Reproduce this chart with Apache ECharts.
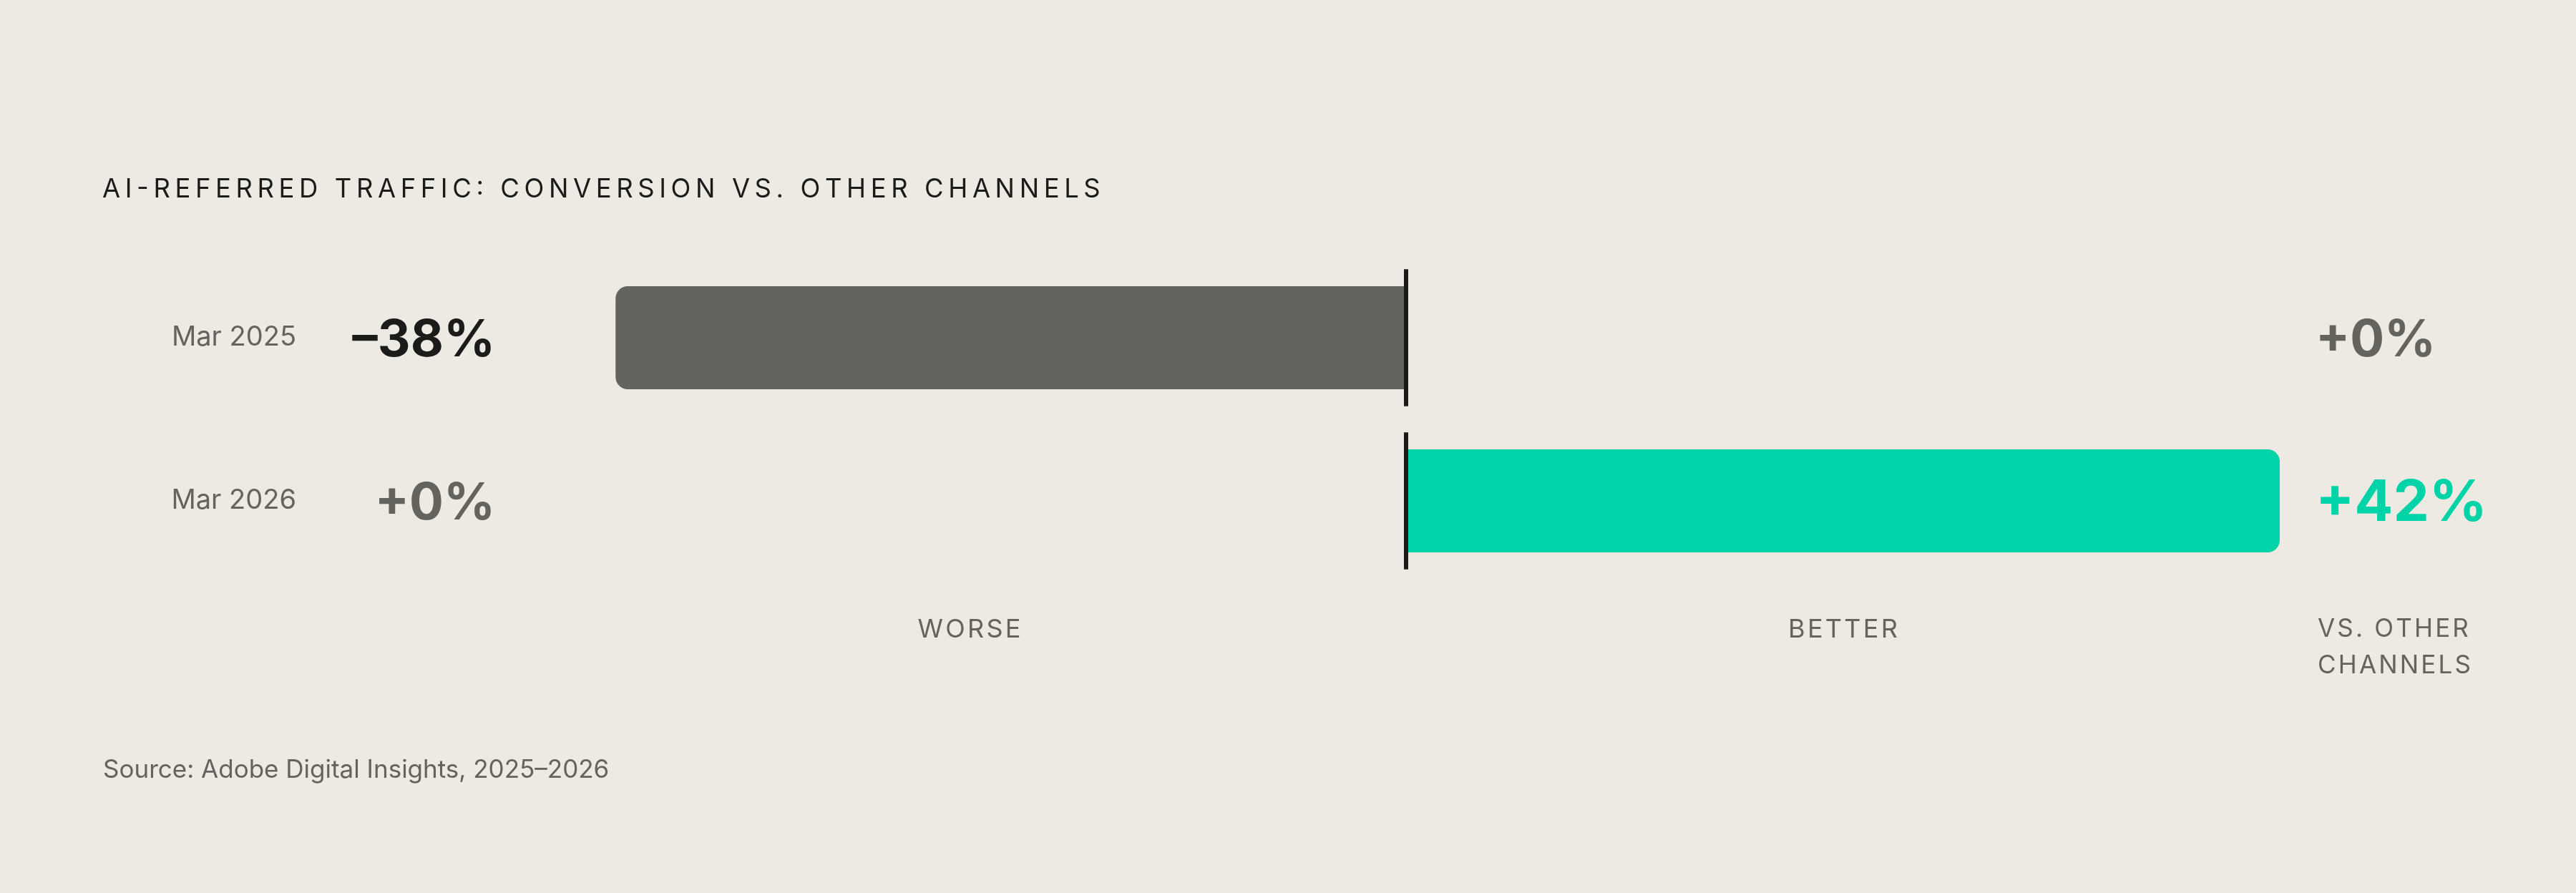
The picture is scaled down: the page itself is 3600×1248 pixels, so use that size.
<!DOCTYPE html>
<html>
<head>
<meta charset="utf-8">
<script src="https://cdn.jsdelivr.net/npm/echarts@6/dist/echarts.min.js"></script>
<style>
  html, body { margin: 0; padding: 0; background: #edeae3; }
  #chart { width: 3600px; height: 1248px; }
</style>
</head>
<body>
<div id="chart"></div>
<script>
var months = ['Mar 2025', 'Mar 2026'];
var change = [-38, 42];             // conversion vs. other channels, %
var sideLabels = ['WORSE', 'BETTER'];
var axisMin = -42, axisMax = 42, axisStep = 21;

var DARK = '#1b1b1a', GREY = '#64635e', GREEN = '#00d3a7', BG = '#edeae3';
var FONT = 'Inter, "DejaVu Sans", sans-serif';

// letter spaced caps, the canvas has no tracking so put hair spaces in
function track(s, n) {
    return s.split('').join(new Array((n || 1) + 1).join('\u200A'));
}

var myChart = echarts.init(document.getElementById('chart'));

option = {
    backgroundColor: BG,
    animation: false,
    title: {
        text: track('AI-REFERRED TRAFFIC: CONVERSION VS. OTHER CHANNELS', 2),
        left: 143,
        top: 247,
        padding: 0,
        textStyle: {
            fontFamily: FONT,
            fontSize: 36.4,
            fontWeight: 'normal',
            color: DARK
        }
    },
    graphic: [
        {
            type: 'text',
            left: 3239,
            top: 854,
            style: {
                text: track('VS. OTHER') + '\n' + track('CHANNELS'),
                fontFamily: FONT,
                fontSize: 35,
                lineHeight: 51,
                fill: GREY
            }
        },
        {
            type: 'text',
            left: 144,
            top: 1059,
            style: {
                text: 'Source: Adobe Digital Insights, 2025\u20132026',
                fontFamily: FONT,
                fontSize: 35,
                fill: GREY
            }
        }
    ],
    grid: {
        left: 744,
        right: 414,
        top: 358,
        height: 456,
        containLabel: false
    },
    xAxis: {
        type: 'value',
        min: axisMin,
        max: axisMax,
        interval: axisStep,
        axisLine: { show: false },
        axisTick: { show: false },
        splitLine: { show: false },
        axisLabel: {
            margin: 48,
            fontFamily: FONT,
            fontSize: 36,
            color: GREY,
            formatter: function (v) {
                if (v === -axisStep) return track(sideLabels[0]);
                if (v === axisStep) return track(sideLabels[1]);
                return '';
            }
        }
    },
    yAxis: [
        {
            type: 'category',
            data: months,
            inverse: true,
            position: 'left',
            axisLine: { show: false },
            axisTick: { show: false },
            axisLabel: {
                margin: 330,
                fontFamily: FONT,
                fontSize: 38,
                color: GREY,
                padding: [4, 0, 0, 0]
            }
        },
        {
            // left value column: how much worse
            type: 'category',
            data: months,
            inverse: true,
            position: 'left',
            axisLine: { show: false },
            axisTick: { show: false },
            axisLabel: {
                margin: 52,
                formatter: function (val, i) {
                    var v = change[i];
                    return v < 0 ? '{neg|\u2013' + Math.abs(v) + '%}' : '{zero|+0%}';
                },
                rich: {
                    neg: { fontFamily: FONT, fontSize: 71, fontWeight: 'bold', color: DARK, padding: [10, 0, 0, 0] },
                    zero: { fontFamily: FONT, fontSize: 71, fontWeight: 'bold', color: GREY, padding: [10, 0, 0, 0] }
                }
            }
        },
        {
            // right value column: how much better
            type: 'category',
            data: months,
            inverse: true,
            position: 'right',
            axisLine: { show: false },
            axisTick: { show: false },
            axisLabel: {
                margin: 50,
                formatter: function (val, i) {
                    var v = change[i];
                    return v > 0 ? '{pos|+' + v + '%}' : '{zero|+0%}';
                },
                rich: {
                    pos: { fontFamily: FONT, fontSize: 80, fontWeight: 'bold', color: GREEN, padding: [8, 0, 0, 0] },
                    zero: { fontFamily: FONT, fontSize: 71, fontWeight: 'bold', color: GREY, padding: [10, 0, 0, 0] }
                }
            }
        }
    ],
    series: [
        {
            type: 'bar',
            yAxisIndex: 0,
            barWidth: 144,
            data: change.map(function (v) {
                return {
                    value: v,
                    itemStyle: {
                        color: v < 0 ? GREY : GREEN,
                        borderRadius: v < 0 ? [17, 0, 0, 17] : [0, 17, 17, 0]
                    }
                };
            }),
            z: 2
        },
        {
            // zero line, one piece per row
            type: 'custom',
            yAxisIndex: 0,
            data: months.map(function (m, i) { return [0, i]; }),
            encode: { x: 0, y: 1 },
            renderItem: function (params, api) {
                var p = api.coord([api.value(0), api.value(1)]);
                var half = api.size([0, 1])[1] * 0.42;
                return {
                    type: 'line',
                    shape: { x1: p[0], y1: p[1] - half, x2: p[0], y2: p[1] + half },
                    style: { stroke: DARK, lineWidth: 6 }
                };
            },
            z: 3
        }
    ]
};

myChart.setOption(option);
</script>
</body>
</html>
